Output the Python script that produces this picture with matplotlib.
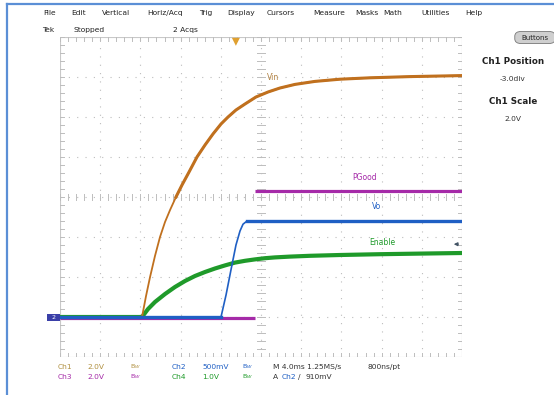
import numpy as np
import matplotlib
matplotlib.use("Agg")
import matplotlib.pyplot as plt
from matplotlib.patches import FancyBboxPatch, Rectangle, Polygon

# ---------------- data (time in ms relative to screen centre, values in volts) -------------
vin_t = [-20.0, -11.84, -11.44, -11.04, -10.55, -10.05, -9.55, -9.05, -8.46, -7.86, -7.16,
         -6.37, -5.57, -4.78, -3.98, -3.28, -2.49, -1.59, -0.50, 0.70, 1.89, 3.38, 5.37,
         7.86, 10.85, 14.83, 20.0]
vin_v = [0.0, 0.0, 1.05, 2.0, 3.05, 4.0, 4.75, 5.35, 6.0, 6.6, 7.25,
         8.0, 8.6, 9.15, 9.65, 10.0, 10.35, 10.65, 11.0, 11.25, 11.45, 11.63, 11.78,
         11.89, 11.96, 12.02, 12.07]

en_t = [-20.0, -11.84, -11.24, -10.55, -9.55, -8.56, -7.56, -6.57, -5.57, -4.58, -3.58,
        -2.59, -1.59, -0.60, 0.40, 1.39, 2.89, 4.88, 7.86, 11.84, 15.82, 20.0]
en_v = [0.0, 0.0, 0.2, 0.375, 0.575, 0.75, 0.9, 1.025, 1.125, 1.2125, 1.29,
        1.36, 1.405, 1.44, 1.47, 1.49, 1.51, 1.53, 1.55, 1.57, 1.585, 1.60]

vo_t = [-20.0, -3.98, -3.48, -2.99, -2.49, -2.09, -1.79, -1.39, 20.0]
vo_v = [0.0, 0.0, 0.275, 0.5875, 0.90, 1.075, 1.16, 1.20, 1.20]

pg_t = [-20.0, -0.60, np.nan, -0.60, 20.0]
pg_v = [-0.05, -0.05, np.nan, 6.3, 6.3]

# channel settings: volts/div and ground position (div)
ch_scale = {"Ch1": 2.0, "Ch2": 0.5, "Ch3": 2.0, "Ch4": 1.0}
ch_pos = {"Ch1": -3.0, "Ch2": -3.0, "Ch3": -3.0, "Ch4": -3.0}
trig_level = 0.91  # V on Ch2

menu_items = ["File", "Edit", "Vertical", "Horiz/Acq", "Trig", "Display", "Cursors",
              "Measure", "Masks", "Math", "Utilities", "Help"]
menu_x = [50, 79, 116, 165, 206, 241, 281, 329, 367, 393, 436, 474]

W, H = 554, 395
fig = plt.figure(figsize=(W / 100, H / 100), dpi=100)
fig.patch.set_facecolor("white")

def fx(x):
    return x / W

def fy(y):
    return 1 - y / H

# window frame (blue left + top line)
fig.add_artist(plt.Line2D([fx(7), fx(7)], [0, fy(4)], color="#5b8fd6", lw=1.6))
fig.add_artist(plt.Line2D([fx(7), 1], [fy(4), fy(4)], color="#5b8fd6", lw=1.6))

# menu bar
for name, x in zip(menu_items, menu_x):
    fig.text(fx(x), fy(13), name, ha="center", va="center", fontsize=5.4, color="#222222")
fig.text(fx(42), fy(30), "Tek", ha="left", va="center", fontsize=5.4, color="#222222")
fig.text(fx(73), fy(30), "Stopped", ha="left", va="center", fontsize=5.4, color="#222222")
fig.text(fx(173), fy(30), "2 Acqs", ha="left", va="center", fontsize=5.4, color="#222222")

# Buttons button
btn = FancyBboxPatch((fx(517), fy(42)), fx(36), (9 / H), boxstyle="round,pad=0.004,rounding_size=0.012",
                     transform=fig.transFigure, facecolor="#cfcfcf", edgecolor="#777777", lw=0.6)
fig.add_artist(btn)
fig.text(fx(535), fy(37.5), "Buttons", ha="center", va="center", fontsize=5.0, color="#222222")

# right side panel
fig.text(fx(513), fy(62), "Ch1 Position", ha="center", va="center", fontsize=6.3,
         fontweight="bold", color="#222222")
fig.text(fx(513), fy(79), "-3.0div", ha="center", va="center", fontsize=5.4, color="#333333")
fig.text(fx(513), fy(102), "Ch1 Scale", ha="center", va="center", fontsize=6.3,
         fontweight="bold", color="#222222")
fig.text(fx(513), fy(119), "2.0V", ha="center", va="center", fontsize=5.4, color="#333333")

# ---------------- scope graticule ----------------
x0, x1, y0, y1 = 60, 462, 37, 357
ax = fig.add_axes([fx(x0), fy(y1), fx(x1) - fx(x0), (y1 - y0) / H])
ax.set_xlim(-20, 20)
ax.set_ylim(-4, 4)
ax.set_facecolor("white")
for s in ax.spines.values():
    s.set_visible(False)
ax.set_xticks([])
ax.set_yticks([])

gcol = "#bdbdbd"
for k in range(-4, 5):
    ax.plot([4 * k, 4 * k], [-4, 4], color=gcol, lw=0.8, ls=(0, (1, 6.5)), zorder=1)
for k in range(-3, 4):
    ax.plot([-20, 20], [k, k], color=gcol, lw=0.8, ls=(0, (1, 6.5)), zorder=1)
# border
ax.plot([-20, 20, 20, -20, -20], [-4, -4, 4, 4, -4], color="#c8c8c8", lw=0.8, zorder=1)
# minor ticks on centre lines and border
for t in np.arange(-20, 20.01, 0.8):
    ax.plot([t, t], [-0.08, 0.08], color=gcol, lw=0.7, zorder=1)
    ax.plot([t, t], [-4, -3.9], color=gcol, lw=0.7, zorder=1)
    ax.plot([t, t], [4, 3.9], color=gcol, lw=0.7, zorder=1)
for d in np.arange(-4, 4.01, 0.2):
    ax.plot([-0.35, 0.35], [d, d], color=gcol, lw=0.7, zorder=1)
    ax.plot([-20, -19.6], [d, d], color=gcol, lw=0.7, zorder=1)
    ax.plot([20, 19.6], [d, d], color=gcol, lw=0.7, zorder=1)

def todiv(vals, ch):
    return np.array(vals, dtype=float) / ch_scale[ch] + ch_pos[ch]

c_vin = "#c0701e"
c_vo = "#1f5fc4"
c_pg = "#a52aa8"
c_en = "#1f9a2a"

# PGood (Ch3)
ax.plot(pg_t, todiv(pg_v, "Ch3"), color=c_pg, lw=2.3, zorder=3, solid_capstyle="butt")
# Enable (Ch4)
ax.plot(en_t, todiv(en_v, "Ch4"), color=c_en, lw=3.0, zorder=4, solid_joinstyle="round")
# Vin (Ch1): thin steep edge, thicker flatter part
vt = np.array(vin_t)
vv = todiv(vin_v, "Ch1")
ax.plot(vt, vv, color=c_vin, lw=1.3, zorder=5, solid_joinstyle="round")
m = vt >= -8.5
ax.plot(vt[m], vv[m], color=c_vin, lw=2.2, zorder=5, solid_joinstyle="round")
# Vo (Ch2)
ot = np.array(vo_t)
ov = todiv(vo_v, "Ch2")
ax.plot(ot, ov, color=c_vo, lw=1.2, zorder=6, solid_joinstyle="round")
ax.plot(ot[:2], ov[:2], color=c_vo, lw=2.4, zorder=6)
ax.plot(ot[-2:], ov[-2:], color=c_vo, lw=2.4, zorder=6)

# trace labels
ax.text(0.6, 2.98, "Vin", color="#b08040", fontsize=5.5, va="center", ha="left", zorder=7)
ax.text(9.1, 0.5, "PGood", color=c_pg, fontsize=5.5, va="center", ha="left", zorder=7)
ax.text(11.0, -0.23, "Vo", color=c_vo, fontsize=5.5, va="center", ha="left", zorder=7)
ax.text(10.8, -1.13, "Enable", color=c_en, fontsize=5.5, va="center", ha="left", zorder=7)

# trigger level marker (right) and trigger position marker (top)
tl = trig_level / ch_scale["Ch2"] + ch_pos["Ch2"]
ax.annotate("", xy=(18.9, tl), xytext=(19.9, tl),
            arrowprops=dict(arrowstyle="-|>", color="#445566", lw=0.9, mutation_scale=5), zorder=7)
ax.add_patch(Polygon([[-2.9, 3.98], [-2.1, 3.98], [-2.5, 3.78]], closed=True,
                     facecolor="#e0a030", edgecolor="none", zorder=7, clip_on=False))

# ground marker box on the left
gy = fy(317.5)
fig.add_artist(Rectangle((fx(47), gy - 3.5 / H), fx(13), 7 / H, transform=fig.transFigure,
                         facecolor="#3a3fa8", edgecolor="none"))
fig.text(fx(53.5), gy, "2", ha="center", va="center", fontsize=4.5, color="white")

# ---------------- bottom readout ----------------
r1, r2 = fy(367), fy(377)
fs = 5.4
fig.text(fx(58), r1, "Ch1", color="#b09040", fontsize=fs, va="center")
fig.text(fx(87), r1, "2.0V", color="#b09040", fontsize=fs, va="center")
fig.text(fx(130), r1, "B$_W$", color="#b09040", fontsize=4.6, va="center")
fig.text(fx(172), r1, "Ch2", color=c_vo, fontsize=fs, va="center")
fig.text(fx(202), r1, "500mV", color=c_vo, fontsize=fs, va="center")
fig.text(fx(242), r1, "B$_W$", color=c_vo, fontsize=4.6, va="center")
fig.text(fx(273), r1, "M 4.0ms 1.25MS/s", color="#333333", fontsize=fs, va="center")
fig.text(fx(367), r1, "800ns/pt", color="#333333", fontsize=fs, va="center")

fig.text(fx(58), r2, "Ch3", color=c_pg, fontsize=fs, va="center")
fig.text(fx(87), r2, "2.0V", color=c_pg, fontsize=fs, va="center")
fig.text(fx(130), r2, "B$_W$", color=c_pg, fontsize=4.6, va="center")
fig.text(fx(172), r2, "Ch4", color=c_en, fontsize=fs, va="center")
fig.text(fx(202), r2, "1.0V", color=c_en, fontsize=fs, va="center")
fig.text(fx(242), r2, "B$_W$", color=c_en, fontsize=4.6, va="center")
fig.text(fx(273), r2, "A", color="#333333", fontsize=fs, va="center")
fig.text(fx(282), r2, "Ch2", color=c_vo, fontsize=fs, va="center")
fig.text(fx(298), r2, "/", color="#333333", fontsize=fs, va="center")
fig.text(fx(305), r2, "910mV", color="#333333", fontsize=fs, va="center")

fig.savefig("out.png", dpi=100)
